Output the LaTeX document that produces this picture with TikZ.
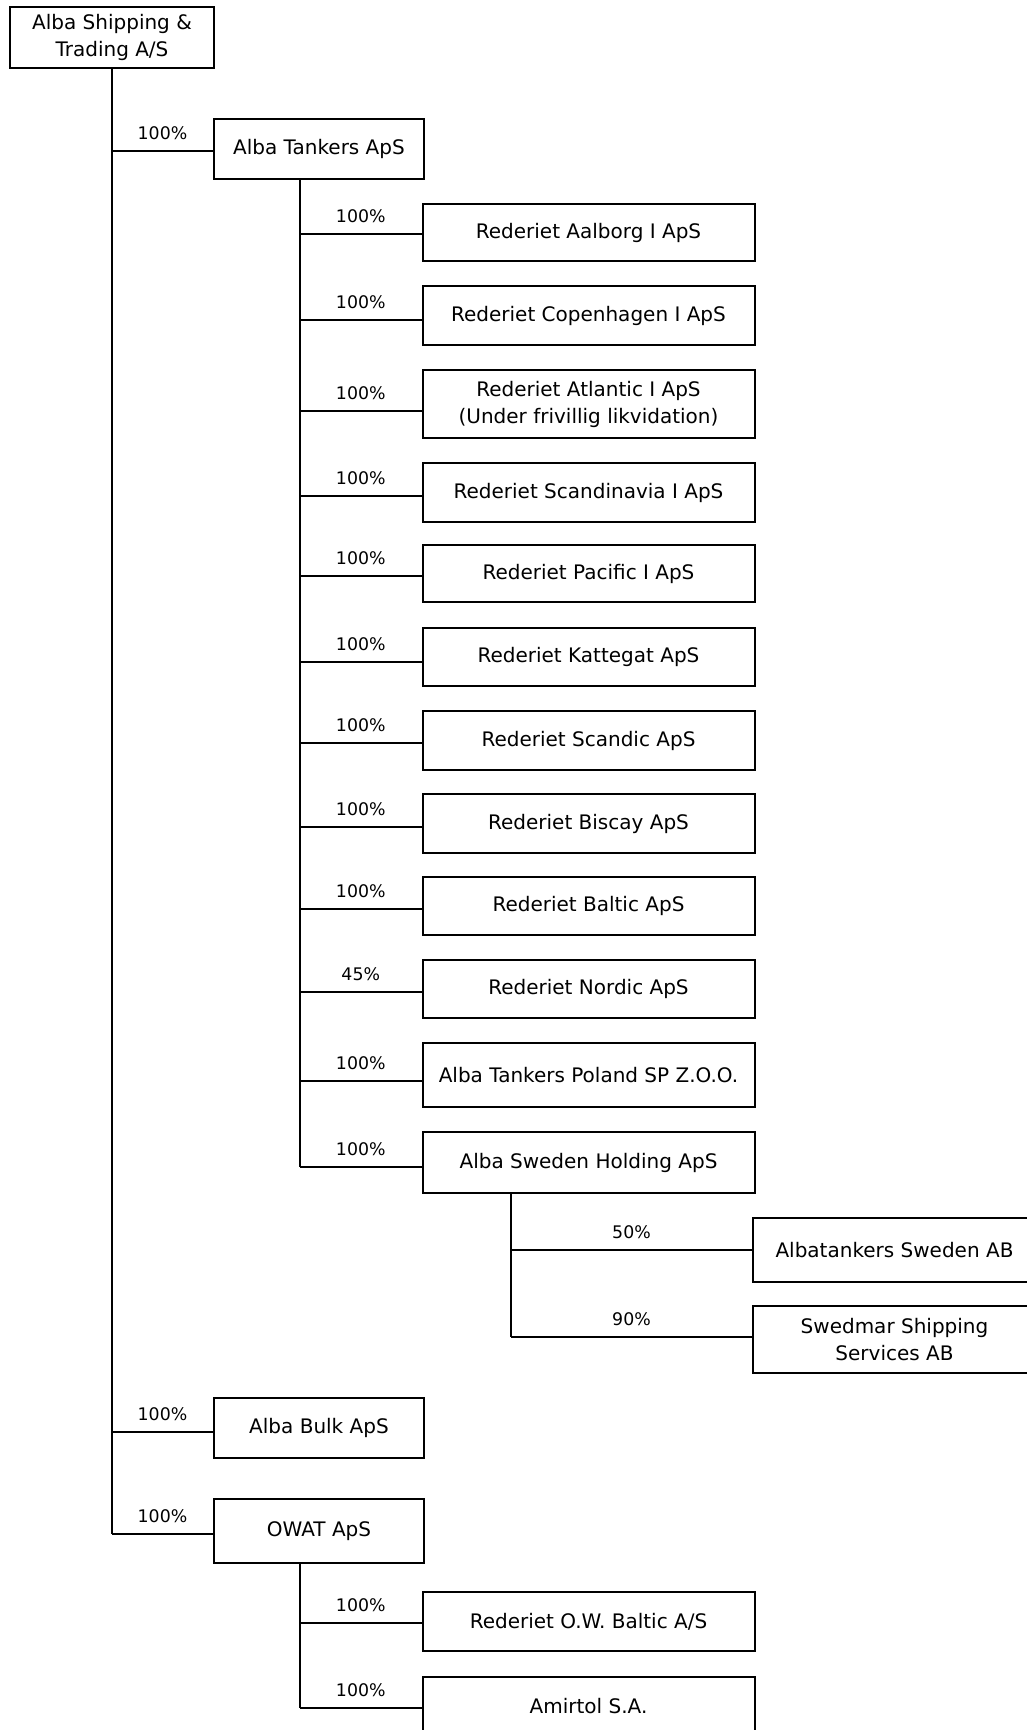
\documentclass[tikz,border=0pt]{standalone}
\usepackage{fontspec}
\setmainfont{DejaVu Sans}
\begin{document}
\begin{tikzpicture}[x=0.75pt,y=-0.75pt,
  orgbox/.style={draw, line width=1.5pt, rectangle, inner sep=0pt, align=center,
                 font=\fontsize{15}{20.25}\selectfont},
  lvlone/.style={orgbox, minimum width=157.5pt},
  lvltwo/.style={orgbox, minimum width=249pt},
  lvlthree/.style={orgbox, minimum width=212.25pt},
  pct/.style={font=\fontsize{13}{15}\selectfont, inner sep=0pt, midway, yshift=13.5pt},
  link/.style={line width=1.3pt}]
\clip (0,0) rectangle (1027,1730);
\fill[white] (0,0) rectangle (1027,1730);

% boxes
\node[orgbox, minimum width=153pt, minimum height=45.75pt] (top) at (112,37.5) {Alba Shipping \&\\Trading A/S};
\node[lvlone, minimum height=45pt] (tankers) at (319,149) {Alba Tankers ApS};

\node[lvltwo, minimum height=42.75pt] (aalborg) at (588.5,232.5) {Rederiet Aalborg I ApS};
\node[lvltwo, minimum height=44.25pt] (copen) at (588.5,315.5) {Rederiet Copenhagen I ApS};
\node[lvltwo, minimum height=51pt] (atlantic) at (588.5,404) {Rederiet Atlantic I ApS\\(Under frivillig likvidation)};
\node[lvltwo, minimum height=44.25pt] (scand) at (588.5,492.5) {Rederiet Scandinavia I ApS};
\node[lvltwo, minimum height=42.75pt] (pacific) at (588.5,573.5) {Rederiet Pacific I ApS};
\node[lvltwo, minimum height=43.5pt] (kattegat) at (588.5,657) {Rederiet Kattegat ApS};
\node[lvltwo, minimum height=44.25pt] (scandic) at (588.5,740.5) {Rederiet Scandic ApS};
\node[lvltwo, minimum height=44.25pt] (biscay) at (588.5,823.5) {Rederiet Biscay ApS};
\node[lvltwo, minimum height=43.5pt] (baltic) at (588.5,906) {Rederiet Baltic ApS};
\node[lvltwo, minimum height=43.5pt] (nordic) at (588.5,989) {Rederiet Nordic ApS};
\node[lvltwo, minimum height=48pt] (poland) at (588.5,1075) {Alba Tankers Poland SP Z.O.O.};
\node[lvltwo, minimum height=45.75pt] (swedenh) at (588.5,1162.5) {Alba Sweden Holding ApS};

\node[lvlthree, minimum height=48pt] (albatank) at (894.5,1250) {Albatankers Sweden AB};
\node[lvlthree, minimum height=50.25pt] (swedmar) at (894.5,1339.5) {Swedmar Shipping\\Services AB};

\node[lvlone, minimum height=45pt] (bulk) at (319,1428) {Alba Bulk ApS};
\node[lvlone, minimum height=48pt] (owat) at (319,1531) {OWAT ApS};

\node[lvltwo, minimum height=44.25pt] (owbaltic) at (588.5,1621.5) {Rederiet O.W. Baltic A/S};
\node[lvltwo, minimum height=43.5pt] (amirtol) at (588.5,1706) {Amirtol S.A.};

% trunk from the parent company
\draw[link] (top.south) -- (top.south |- 0,1534);
\draw[link] (top.south |- 0,151) -- (tankers.west |- 0,151) node[pct] {100\%};
\draw[link] (top.south |- 0,1432) -- (bulk.west |- 0,1432) node[pct] {100\%};
\draw[link] (top.south |- 0,1534) -- (owat.west |- 0,1534) node[pct] {100\%};

% Alba Tankers subsidiaries
\coordinate (tv) at (tankers.south -| 300,0);
\draw[link] (tv) -- (tv |- 0,1167);
\draw[link] (tv |- 0,234) -- (aalborg.west |- 0,234) node[pct] {100\%};
\draw[link] (tv |- 0,320) -- (copen.west |- 0,320) node[pct] {100\%};
\draw[link] (tv |- 0,411) -- (atlantic.west |- 0,411) node[pct] {100\%};
\draw[link] (tv |- 0,496) -- (scand.west |- 0,496) node[pct] {100\%};
\draw[link] (tv |- 0,576) -- (pacific.west |- 0,576) node[pct] {100\%};
\draw[link] (tv |- 0,662) -- (kattegat.west |- 0,662) node[pct] {100\%};
\draw[link] (tv |- 0,743) -- (scandic.west |- 0,743) node[pct] {100\%};
\draw[link] (tv |- 0,827) -- (biscay.west |- 0,827) node[pct] {100\%};
\draw[link] (tv |- 0,909) -- (baltic.west |- 0,909) node[pct] {100\%};
\draw[link] (tv |- 0,992) -- (nordic.west |- 0,992) node[pct] {45\%};
\draw[link] (tv |- 0,1081) -- (poland.west |- 0,1081) node[pct] {100\%};
\draw[link] (tv |- 0,1167) -- (swedenh.west |- 0,1167) node[pct] {100\%};

% Alba Sweden Holding subsidiaries
\coordinate (sv) at (swedenh.south -| 511,0);
\draw[link] (sv) -- (sv |- 0,1337);
\draw[link] (sv |- 0,1250) -- (albatank.west |- 0,1250) node[pct] {50\%};
\draw[link] (sv |- 0,1337) -- (swedmar.west |- 0,1337) node[pct] {90\%};

% OWAT subsidiaries
\coordinate (ov) at (owat.south -| 300,0);
\draw[link] (ov) -- (ov |- 0,1708);
\draw[link] (ov |- 0,1623) -- (owbaltic.west |- 0,1623) node[pct] {100\%};
\draw[link] (ov |- 0,1708) -- (amirtol.west |- 0,1708) node[pct] {100\%};
\end{tikzpicture}
\end{document}
